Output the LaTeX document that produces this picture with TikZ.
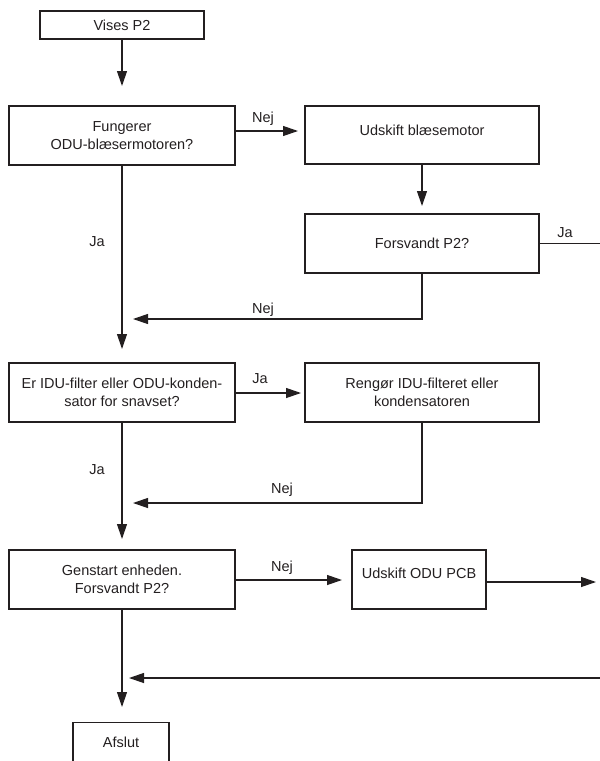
\documentclass[tikz,border=0pt]{standalone}
\usepackage{fontspec}
\setmainfont{Liberation Sans}
\usetikzlibrary{arrows.meta}
\definecolor{ink}{HTML}{231F20}
\begin{document}
\begin{tikzpicture}[x=1pt,y=-1pt,
  box/.style={draw=ink, line width=1.2pt, inner sep=0pt, align=center, font=\fontsize{14.5}{18}\selectfont, text=ink},
  lbl/.style={font=\fontsize{14.5}{18}\selectfont, text=ink, inner sep=0pt},
  conn/.style={draw=ink, line width=1.2pt},
  arr/.style={conn, -{Triangle[length=15pt,width=10pt]}}]
\useasboundingbox (0,0) rectangle (600,761);
\clip (0,0) rectangle (600,761);
% boxes
\node[box, minimum width=164pt, minimum height=28pt] (b1) at (122,25) {Vises P2};
\node[box, minimum width=226pt, minimum height=59pt] (b2) at (122,135.5) {Fungerer\\ODU-blæsermotoren?};
\node[box, minimum width=234pt, minimum height=58pt] (b3) at (422,135) {};
\node[lbl] (t3) at (422,130) {Udskift blæsemotor};
\node[box, minimum width=234pt, minimum height=59pt] (b4) at (422,243.5) {Forsvandt P2?};
\node[box, minimum width=226pt, minimum height=59pt] (b5) at (122,392.5) {Er IDU-filter eller ODU-konden-\\sator for snavset?};
\node[box, minimum width=234pt, minimum height=59pt] (b6) at (422,392.5) {Rengør IDU-filteret eller\\kondensatoren};
\node[box, minimum width=226pt, minimum height=59pt] (b7) at (122,579.5) {Genstart enheden.\\Forsvandt P2?};
\node[box, minimum width=134pt, minimum height=59pt] (b8) at (419,579.5) {};
\node[lbl] (t8) at (419,573) {Udskift ODU PCB};
\node[box, minimum width=96pt, minimum height=60pt, anchor=north] (b9) at (121,722) {};
\node[lbl] (t9) at (121,742) {Afslut};
% free ends
\coordinate (p1) at (122,86);
\coordinate (p2) at (298,131);
\coordinate (p3) at (422,206);
\coordinate (p4) at (600,243.5);
\coordinate (p5) at (133,319);
\coordinate (p6) at (122,349);
\coordinate (p7) at (301,393);
\coordinate (p8) at (122,539);
\coordinate (p9) at (133,503);
\coordinate (p10) at (342,580);
\coordinate (p11) at (596,582);
\coordinate (p12) at (600,678);
\coordinate (p13) at (129,678);
\coordinate (p14) at (122,707);
% connectors
\draw[arr] (b1) -- (p1);
\draw[arr] (b2.east |- p2) -- (p2);
\draw[arr] (b3) -- (p3);
\draw[conn] (b4) -- (p4);
\draw[arr] (b4.south) |- (p5);
\draw[arr] (b2) -- (p6);
\draw[arr] (b5.east |- p7) -- (p7);
\draw[arr] (b5) -- (p8);
\draw[arr] (b6.south) |- (p9);
\draw[arr] (b7.east |- p10) -- (p10);
\draw[arr] (b8.east |- p11) -- (p11);
\draw[arr] (p12) -- (p13);
\draw[arr] (b7) -- (p14);
% labels
\node[lbl] (l1) at (263,119) {Nej};
\node[lbl] (l2) at (565,233) {Ja};
\node[lbl] (l3) at (263,310) {Nej};
\node[lbl] (l4) at (97,242) {Ja};
\node[lbl] (l5) at (260,379) {Ja};
\node[lbl] (l6) at (97,470) {Ja};
\node[lbl] (l7) at (282,490) {Nej};
\node[lbl] (l8) at (282,568) {Nej};
\end{tikzpicture}
\end{document}
